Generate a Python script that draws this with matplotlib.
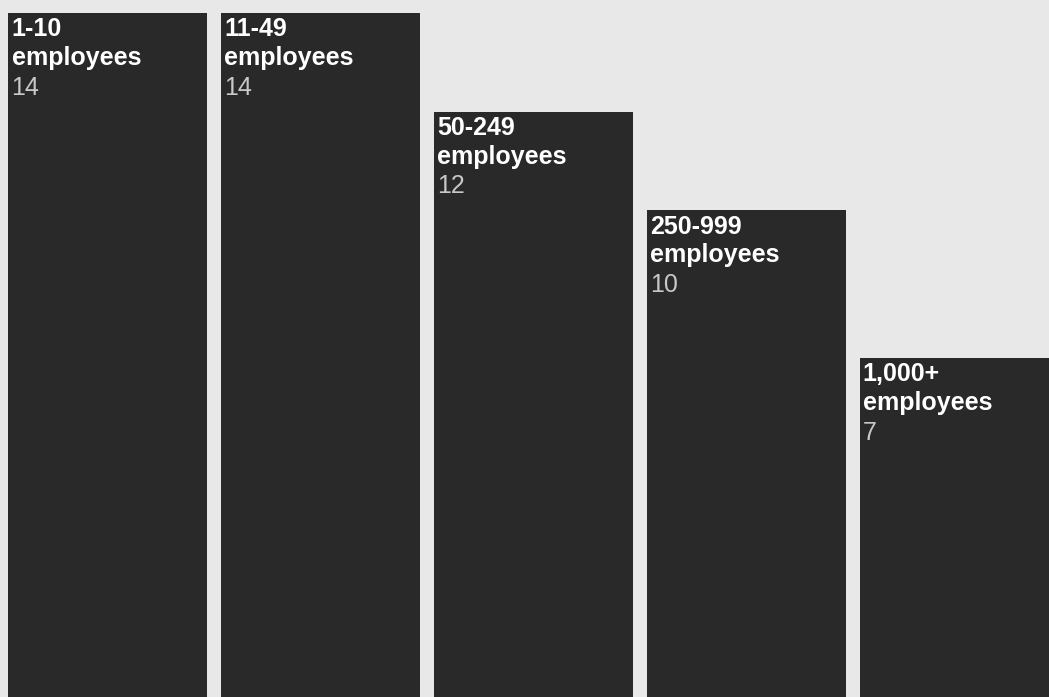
import matplotlib
matplotlib.use("Agg")
import matplotlib.pyplot as plt

groups = ["1-10", "11-49", "50-249", "250-999", "1,000+"]
unit = "employees"
values = [14, 14, 12, 10, 7]

BG = "#e8e8e8"
BAR = "#292929"

fig = plt.figure(figsize=(10.49, 6.97), dpi=100, facecolor=BG)
ax = fig.add_axes([0, 0, 1, 1], facecolor=BG)

width = 0.9354
xs = list(range(len(values)))
ax.bar(xs, values, width=width, color=BAR, align="center")

# baselines of the three text lines, in points below the bar top
lines = [(-16.9, "white", "bold"), (-37.4, "white", "bold"), (-58.8, "#c8c8c8", "normal")]

for x, g, v in zip(xs, groups, values):
    left = x - width / 2
    for (dy, col, wt), txt in zip(lines, [g, unit, str(v)]):
        ax.annotate(txt, xy=(left, v), xytext=(2.2, dy), textcoords="offset points",
                    ha="left", va="baseline", color=col, fontsize=18,
                    fontweight=wt, family="Liberation Sans")

ax.set_xlim(-0.5076, 4.4230)
ax.set_ylim(0.12, 14.264)
ax.axis("off")

fig.savefig("out.png", dpi=100, facecolor=BG)
